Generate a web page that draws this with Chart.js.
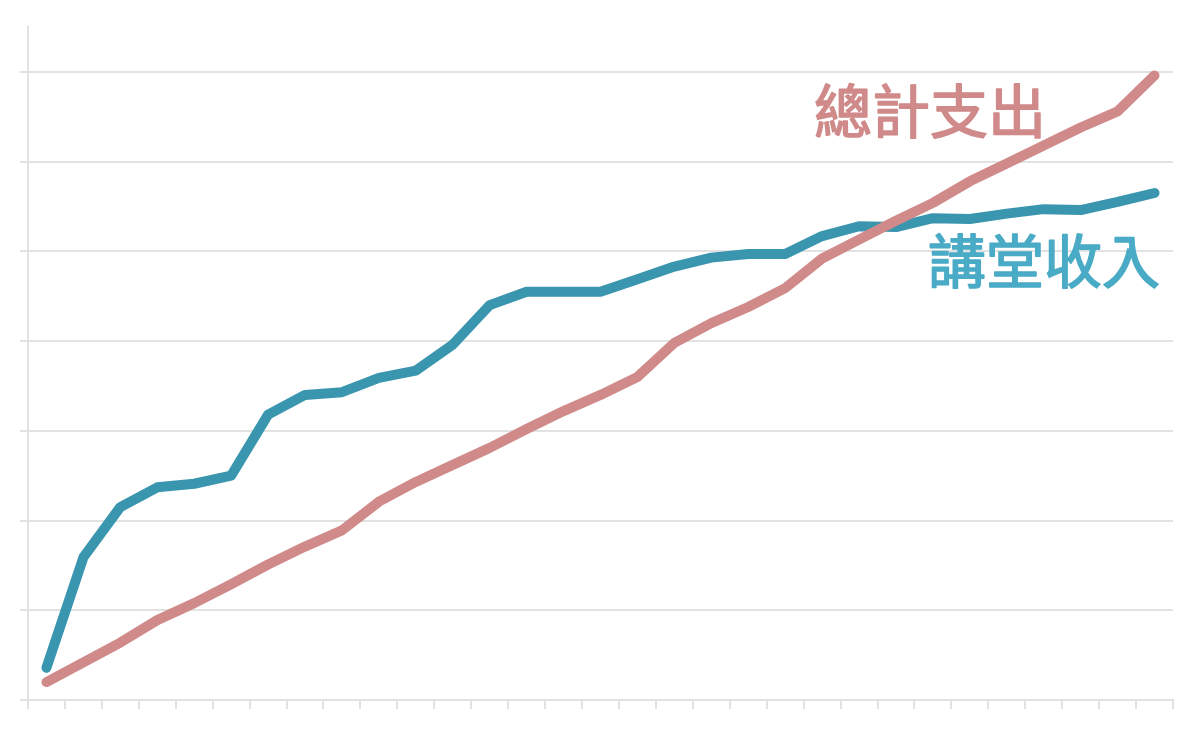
<!DOCTYPE html>
<html>
<head>
<meta charset="utf-8">
<script src="https://cdn.jsdelivr.net/npm/chart.js@4"></script>
<style>
    html, body { margin: 0; padding: 0; background: #ffffff; }
    #wrap { width: 1185px; height: 743px; position: relative; }
</style>
</head>
<body>
<div id="wrap"><canvas id="lineChart"></canvas></div>
<script>
// 31 periods, no tick labels are shown in the picture
const periods = ['1', '2', '3', '4', '5', '6', '7', '8', '9', '10',
    '11', '12', '13', '14', '15', '16', '17', '18', '19', '20',
    '21', '22', '23', '24', '25', '26', '27', '28', '29', '30', '31'];

const incomeName = '講堂收入';
const incomeValues = [0.36, 1.59, 2.15, 2.37, 2.41, 2.50, 3.18, 3.40, 3.43, 3.59,
    3.67, 3.96, 4.40, 4.55, 4.55, 4.55, 4.69, 4.83, 4.93, 4.97,
    4.97, 5.17, 5.28, 5.27, 5.37, 5.36, 5.42, 5.47, 5.46, 5.55, 5.65];

const spendName = '總計支出';
const spendValues = [0.20, 0.42, 0.64, 0.89, 1.08, 1.29, 1.51, 1.71, 1.89, 2.21,
    2.43, 2.62, 2.81, 3.02, 3.22, 3.40, 3.60, 3.98, 4.20, 4.38,
    4.59, 4.92, 5.13, 5.34, 5.54, 5.78, 5.98, 6.18, 6.38, 6.56, 6.96];

const yMin = 0;
const yMax = 7.5;
const yStep = 1;

const blueLine = '#3a96ae';
const blueText = '#4aabc6';
const pinkLine = '#d08a8a';
const gridGray = '#e2e2e2';

// series names written straight onto the plot
const seriesLabels = {
    id: 'seriesLabels',
    afterDatasetsDraw(chart) {
        const c = chart.ctx;
        c.save();
        c.font = '58px "Noto Sans CJK TC", "Noto Sans CJK SC", sans-serif';
        c.textBaseline = 'middle';
        c.textAlign = 'center';
        c.lineWidth = 1.6;
        c.lineJoin = 'round';
        c.fillStyle = pinkLine;
        c.strokeStyle = pinkLine;
        c.fillText(spendName, 930, 111);
        c.strokeText(spendName, 930, 111);
        c.fillStyle = blueText;
        c.strokeStyle = blueText;
        c.fillText(incomeName, 1044, 261);
        c.strokeText(incomeName, 1044, 261);
        c.restore();
    }
};

const ctx = document.getElementById('lineChart').getContext('2d');
const lineChart = new Chart(ctx, {
    type: 'line',
    data: {
        labels: periods,
        datasets: [{
            label: spendName,
            data: spendValues,
            borderColor: pinkLine,
            borderWidth: 10,
            borderCapStyle: 'round',
            borderJoinStyle: 'round',
            pointRadius: 0,
            tension: 0,
            fill: false,
        }, {
            label: incomeName,
            data: incomeValues,
            borderColor: blueLine,
            borderWidth: 10,
            borderCapStyle: 'round',
            borderJoinStyle: 'round',
            pointRadius: 0,
            tension: 0,
            fill: false,
        }],
    },
    options: {
        responsive: true,
        maintainAspectRatio: false,
        animation: false,
        layout: { padding: { left: 20, top: 27, right: 12, bottom: 34 } },
        plugins: {
            legend: { display: false },
            tooltip: { enabled: false },
        },
        scales: {
            x: {
                offset: true,
                grid: {
                    offset: true,
                    drawOnChartArea: false,
                    drawTicks: true,
                    tickLength: 9,
                    color: gridGray,
                    lineWidth: 2,
                },
                border: { display: true, color: gridGray, width: 2 },
                ticks: { display: false },
            },
            y: {
                min: yMin,
                max: yMax,
                ticks: { display: false, stepSize: yStep },
                grid: {
                    drawTicks: true,
                    tickLength: 8,
                    lineWidth: 2,
                    color: (c) => (c.tick && c.tick.value > 7 ? 'rgba(0,0,0,0)' : gridGray),
                },
                border: { display: true, color: gridGray, width: 2 },
            },
        },
    },
    plugins: [seriesLabels],
});
</script>
</body>
</html>
